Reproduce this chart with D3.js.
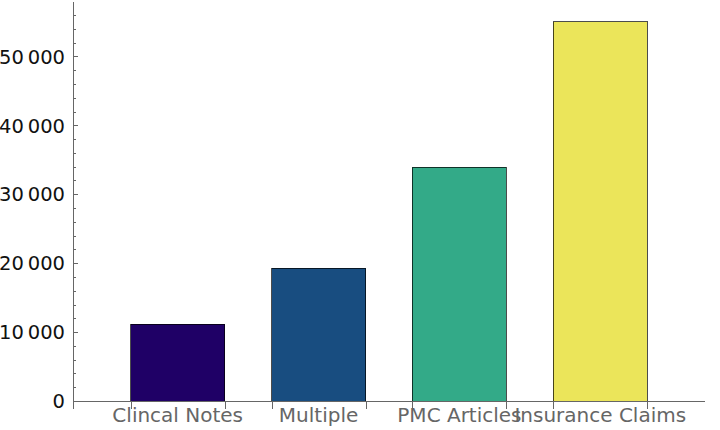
<!DOCTYPE html>
<html>
<head>
<meta charset="utf-8">
<script src="https://cdn.jsdelivr.net/npm/d3@7"></script>
<style>
  body { margin: 0; background: #fff; }
  svg { display: block; }
  text { font-family: "DejaVu Sans", sans-serif; }
</style>
</head>
<body>
<div id="chart"></div>
<script>
// data
var categories = ["Clincal Notes", "Multiple", "PMC Articles", "Insurance Claims"];
var counts = [11150, 19300, 33950, 55050];
var barColors = ["#1f0066", "#184d80", "#33aa88", "#ebe55a"];
var yTicks = [0, 10000, 20000, 30000, 40000, 50000];

var width = 720,
    height = 430;
var plotLeft = 73, plotRight = 705, plotTop = 2, plotBottom = 401;

var svg = d3.select("#chart")
  .append("svg")
    .attr("width", width)
    .attr("height", height);

var x = d3.scaleBand()
  .domain(categories)
  .range([plotLeft, plotRight])
  .paddingInner(1 / 3)
  .paddingOuter(0.41);

var y = d3.scaleLinear()
  .domain([0, 57900])
  .range([plotBottom, plotTop]);

// bars
svg.selectAll("rect.bar")
  .data(categories)
  .enter()
    .append("rect")
    .attr("class", "bar")
    .attr("x", function(d) { return x(d); })
    .attr("y", function(d, i) { return y(counts[i]); })
    .attr("width", x.bandwidth())
    .attr("height", function(d, i) { return plotBottom - y(counts[i]); })
    .attr("fill", function(d, i) { return barColors[i]; })
    .attr("stroke", "rgba(0,0,0,0.7)")
    .attr("stroke-width", 1)
    .attr("shape-rendering", "crispEdges");

var axisColor = "#666";

// x labels
svg.selectAll("text.xlab")
  .data(categories)
  .enter()
    .append("text")
    .attr("class", "xlab")
    .attr("x", function(d) { return x(d) + x.bandwidth() / 2; })
    .attr("y", 422)
    .attr("text-anchor", "middle")
    .attr("font-size", "20px")
    .attr("fill", "#666")
    .text(function(d) { return d; });

// x axis line and ticks at bar edges
svg.append("line")
  .attr("x1", plotLeft).attr("x2", plotRight)
  .attr("y1", plotBottom + 0.5).attr("y2", plotBottom + 0.5)
  .attr("stroke", axisColor);

var edges = [];
categories.forEach(function(c) {
  edges.push(x(c));
  edges.push(x(c) + x.bandwidth());
});
svg.selectAll("line.xtick")
  .data(edges)
  .enter()
    .append("line")
    .attr("class", "xtick")
    .attr("x1", function(d) { return Math.round(d) + 0.5; })
    .attr("x2", function(d) { return Math.round(d) + 0.5; })
    .attr("y1", plotBottom)
    .attr("y2", plotBottom + 8)
    .attr("stroke", axisColor);

// y axis
svg.append("line")
  .attr("x1", plotLeft + 0.5).attr("x2", plotLeft + 0.5)
  .attr("y1", plotTop).attr("y2", plotBottom + 8)
  .attr("stroke", axisColor);

var minor = d3.range(2000, 57900, 2000).filter(function(v) { return v % 10000 !== 0; });
svg.selectAll("line.minor")
  .data(minor)
  .enter()
    .append("line")
    .attr("class", "minor")
    .attr("x1", plotLeft).attr("x2", plotLeft + 3)
    .attr("y1", function(d) { return Math.round(y(d)) + 0.5; })
    .attr("y2", function(d) { return Math.round(y(d)) + 0.5; })
    .attr("stroke", axisColor);

svg.selectAll("line.major")
  .data(yTicks)
  .enter()
    .append("line")
    .attr("class", "major")
    .attr("x1", plotLeft).attr("x2", plotLeft + 5)
    .attr("y1", function(d) { return Math.round(y(d)) + 0.5; })
    .attr("y2", function(d) { return Math.round(y(d)) + 0.5; })
    .attr("stroke", axisColor);

var fmt = function(v) {
  return v >= 10000 ? Math.floor(v / 1000) + "\u2009" + d3.format("03d")(v % 1000) : String(v);
};
svg.selectAll("text.ylab")
  .data(yTicks)
  .enter()
    .append("text")
    .attr("class", "ylab")
    .attr("x", 65)
    .attr("y", function(d) { return y(d); })
    .attr("dy", "0.37em")
    .attr("text-anchor", "end")
    .attr("font-size", "19.5px")
    .attr("fill", "#111")
    .text(fmt);
</script>
</body>
</html>
